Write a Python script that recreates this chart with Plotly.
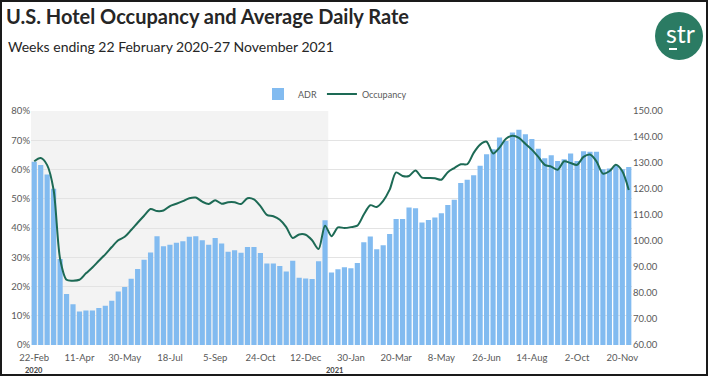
import pandas as pd
import plotly.graph_objects as go

# ---- data -------------------------------------------------------------
first_week = "2020-02-22"
n_weeks = 93
week_ending = pd.date_range(first_week, periods=n_weeks, freq="7D")

adr = [130.5, 129.2, 125.6, 120.1, 93.1, 79.6, 75.7, 72.9, 73.3, 73.3,
       74.2, 75.1, 77.0, 80.6, 82.3, 85.5, 89.2, 92.8, 95.6, 101.8,
       98.0, 98.6, 99.3, 99.9, 101.6, 101.8, 100.3, 98.6, 101.2, 99.0,
       95.9, 96.4, 95.5, 97.7, 97.7, 95.4, 91.3, 91.3, 90.4, 88.3,
       92.4, 85.9, 85.6, 85.4, 92.2, 108.0, 87.9, 89.1, 89.9, 89.5,
       91.5, 99.5, 101.7, 96.8, 98.4, 102.7, 108.5, 108.5, 112.9, 112.6,
       107.1, 108.1, 109.0, 110.7, 113.8, 115.9, 122.3, 123.6, 125.3, 128.9,
       133.4, 135.3, 139.8, 138.5, 141.7, 142.8, 141.1, 139.2, 135.5, 131.8,
       133.0, 130.8, 131.4, 133.7, 130.8, 134.5, 134.3, 134.3, 127.6, 127.9,
       129.0, 127.6, 128.5]

occupancy = [62.8, 63.9, 61.5, 53.0, 29.5, 22.3, 22.0, 22.3, 24.5, 26.5,
             28.8, 31.0, 33.5, 35.8, 37.0, 39.3, 41.8, 44.2, 46.5, 45.8,
             46.0, 47.5, 48.3, 49.2, 50.2, 50.4, 49.0, 48.2, 49.5, 48.3,
             48.8, 48.8, 48.2, 50.2, 49.8, 47.5, 44.5, 44.0, 42.8, 40.3,
             36.6, 37.8, 37.7, 35.8, 32.8, 40.8, 37.2, 40.2, 40.0, 40.3,
             40.8, 44.6, 47.8, 47.2, 49.3, 53.1, 59.0, 57.8, 57.8, 59.7,
             57.2, 57.1, 57.0, 56.5, 59.1, 60.5, 61.8, 61.8, 65.7, 68.5,
             69.5, 65.5, 67.5, 70.5, 71.5, 70.8, 68.8, 66.8, 64.3, 61.6,
             61.0, 59.9, 62.8, 62.2, 61.6, 64.3, 65.1, 62.8, 58.6, 59.4,
             61.6, 59.4, 53.0]

title_text = "U.S. Hotel Occupancy and Average Daily Rate"
subtitle_text = "Weeks ending 22 February 2020-27 November 2021"
year_labels = ["2020", "2021"]
year_label_dates = ["2020-02-22", "2021-01-12"]
shade_end = "2021-01-05 12:00"

# ---- layout geometry --------------------------------------------------
W, H = 708, 376
L, R, T, B = 31, 76, 111, 31
PW, PH = W - L - R, H - T - B


def px(x):
    return (x - L) / PW


def py(y):
    return (H - B - y) / PH


half_week = pd.Timedelta(days=3.5)
x_range = [week_ending[0] - half_week, week_ending[-1] + half_week]

FONT = "Lato, 'Open Sans', sans-serif"
BAR_COLOR = "#82bbf0"
LINE_COLOR = "#1d6a55"
GREEN = "#2b7b63"

fig = go.Figure()
fig.add_trace(go.Bar(
    x=week_ending, y=adr, name="ADR", marker_color=BAR_COLOR,
    marker_line_width=0, yaxis="y"))
fig.add_trace(go.Scatter(
    x=week_ending, y=occupancy, name="Occupancy", mode="lines",
    line=dict(color=LINE_COLOR, width=2, shape="spline", smoothing=0.8),
    yaxis="y2"))

fig.update_layout(
    width=W, height=H,
    margin=dict(l=L, r=R, t=T, b=B, pad=0),
    paper_bgcolor="white", plot_bgcolor="white",
    font=dict(family=FONT, color="#595959", size=10),
    bargap=0.2,
    showlegend=True,
    legend=dict(orientation="h", x=px(258), xanchor="left",
                y=py(94), yanchor="middle",
                font=dict(size=9, color="#595959"),
                bgcolor="rgba(0,0,0,0)", itemwidth=30,
                traceorder="normal"),
    title=dict(text=title_text, xref="container", yref="container",
               x=6 / W, xanchor="left", y=1 - 17 / H, yanchor="middle",
               font=dict(family=FONT, size=20, color="#262626",
                         weight="bold")),
    xaxis=dict(type="date", range=x_range, tick0=first_week,
               dtick=7 * 7 * 86400000, tickformat="%-d-%b",
               showgrid=False, ticks="", showline=False, zeroline=False,
               ticklabelstandoff=5,
               tickfont=dict(size=9.5, color="#595959")),
    yaxis=dict(range=[60, 150], dtick=10, tickformat=".2f", side="right",
               showgrid=False, zeroline=False, ticks="",
               tickfont=dict(size=9.5, color="#595959")),
    yaxis2=dict(range=[0, 80], dtick=10, ticksuffix="%", side="left",
                overlaying="y", showgrid=True, gridcolor="#e3e3e3",
                gridwidth=1, zeroline=False, ticks="",
                tickfont=dict(size=9.5, color="#595959")),
)

shapes = [
    # shaded 2020 region
    dict(type="rect", xref="x", yref="paper", x0=x_range[0], x1=shade_end,
         y0=0, y1=1, fillcolor="#f3f3f3", line_width=0, layer="below"),
    # logo circle
    dict(type="circle", xref="paper", yref="paper",
         x0=px(655), x1=px(703), y0=py(60), y1=py(12),
         fillcolor=GREEN, line_width=0),
    # logo underline
    dict(type="line", xref="paper", yref="paper",
         x0=px(669), x1=px(677), y0=py(49), y1=py(49),
         line=dict(color="white", width=2)),
    # outer frame
    dict(type="rect", xref="paper", yref="paper",
         x0=px(1), x1=px(W - 1), y0=py(H - 1), y1=py(1),
         line=dict(color="#1a1a1a", width=2), fillcolor="rgba(0,0,0,0)"),
]
fig.update_layout(shapes=shapes)

annotations = [
    dict(text=subtitle_text, xref="paper", yref="paper", x=px(6),
         xanchor="left", y=py(46), yanchor="middle", showarrow=False,
         font=dict(family=FONT, size=14, color="#262626")),
    dict(text="str", xref="paper", yref="paper", x=px(680), y=py(33),
         xanchor="center", yanchor="middle", showarrow=False,
         font=dict(family=FONT, size=25, color="white")),
]
for lbl, d in zip(year_labels, year_label_dates):
    annotations.append(dict(text="<b>" + lbl + "</b>", xref="x", yref="paper",
                            x=d, y=py(370), xanchor="center", yanchor="middle",
                            showarrow=False,
                            font=dict(size=7.5, color="#404040")))
fig.update_layout(annotations=annotations)

fig.write_html("out.html",
               config={"displayModeBar": False},
               post_script="document.body.style.margin='0px';"
                           "document.body.style.overflow='hidden';")
